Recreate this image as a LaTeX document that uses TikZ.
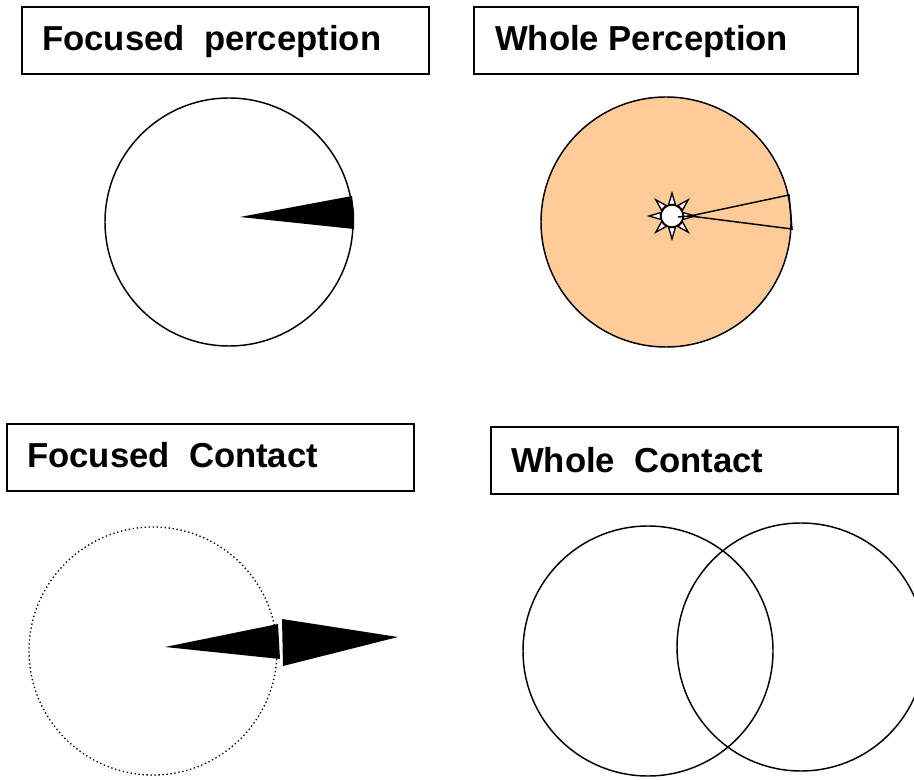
\documentclass[tikz,border=0pt]{standalone}
\usepackage{fontspec}
\setmainfont{Liberation Sans}
\definecolor{peach}{HTML}{FFCC99}
\begin{document}
\begin{tikzpicture}[x=0.75pt,y=-0.75pt,
  box/.style={draw,line width=0.9pt,inner sep=0pt},
  title/.style={anchor=base west,inner sep=0pt,font=\fontsize{26}{30}\selectfont\bfseries},
  ring/.style={draw,line width=1.1pt},
  ray/.style={draw,fill=white,line width=1pt,line join=miter}]
\useasboundingbox (0,0) rectangle (914,780);
% title boxes
\draw[box] (22,7) rectangle (429,74);
\node[title] (t1) at (42,51) {Focused\ \ perception};
\draw[box] (474,7) rectangle (858,74);
\node[title] (t2) at (495,51) {Whole Perception};
\draw[box] (7,424) rectangle (414,491);
\node[title] (t3) at (27,468) {Focused\ \ Contact};
\draw[box] (491,427) rectangle (898,494);
\node[title] (t4) at (511,472) {Whole\ \ Contact};
% focused perception
\draw[ring] (229,222) circle [radius=124];
\fill (240,217) -- (352,196) -- (354,212) -- (354,229) -- cycle;
% whole perception
\draw[ring,fill=peach] (666,222) circle [radius=125];
\foreach \a in {0,45,...,315}{
  \draw[ray,shift={(672,216)}] (\a-16:12) -- (\a:23) -- (\a+16:12) -- cycle;
}
\draw[ray] (672,216) circle [radius=11];
\draw[line width=1.1pt] (678,217) -- (690,216);
\draw[line width=1.1pt] (690,216) -- (789,195) -- (792,229) -- cycle;
% focused contact
\draw[line width=1pt,dash pattern=on 1pt off 2pt] (153,651) circle [radius=124];
\fill (165,647) -- (278,624) -- (280,659) -- cycle;
\fill (282,619) -- (398,637) -- (283,666) -- cycle;
% whole contact
\draw[ring] (648,651) circle [radius=125];
\draw[ring] (801,647) circle [radius=124];
\end{tikzpicture}
\end{document}
